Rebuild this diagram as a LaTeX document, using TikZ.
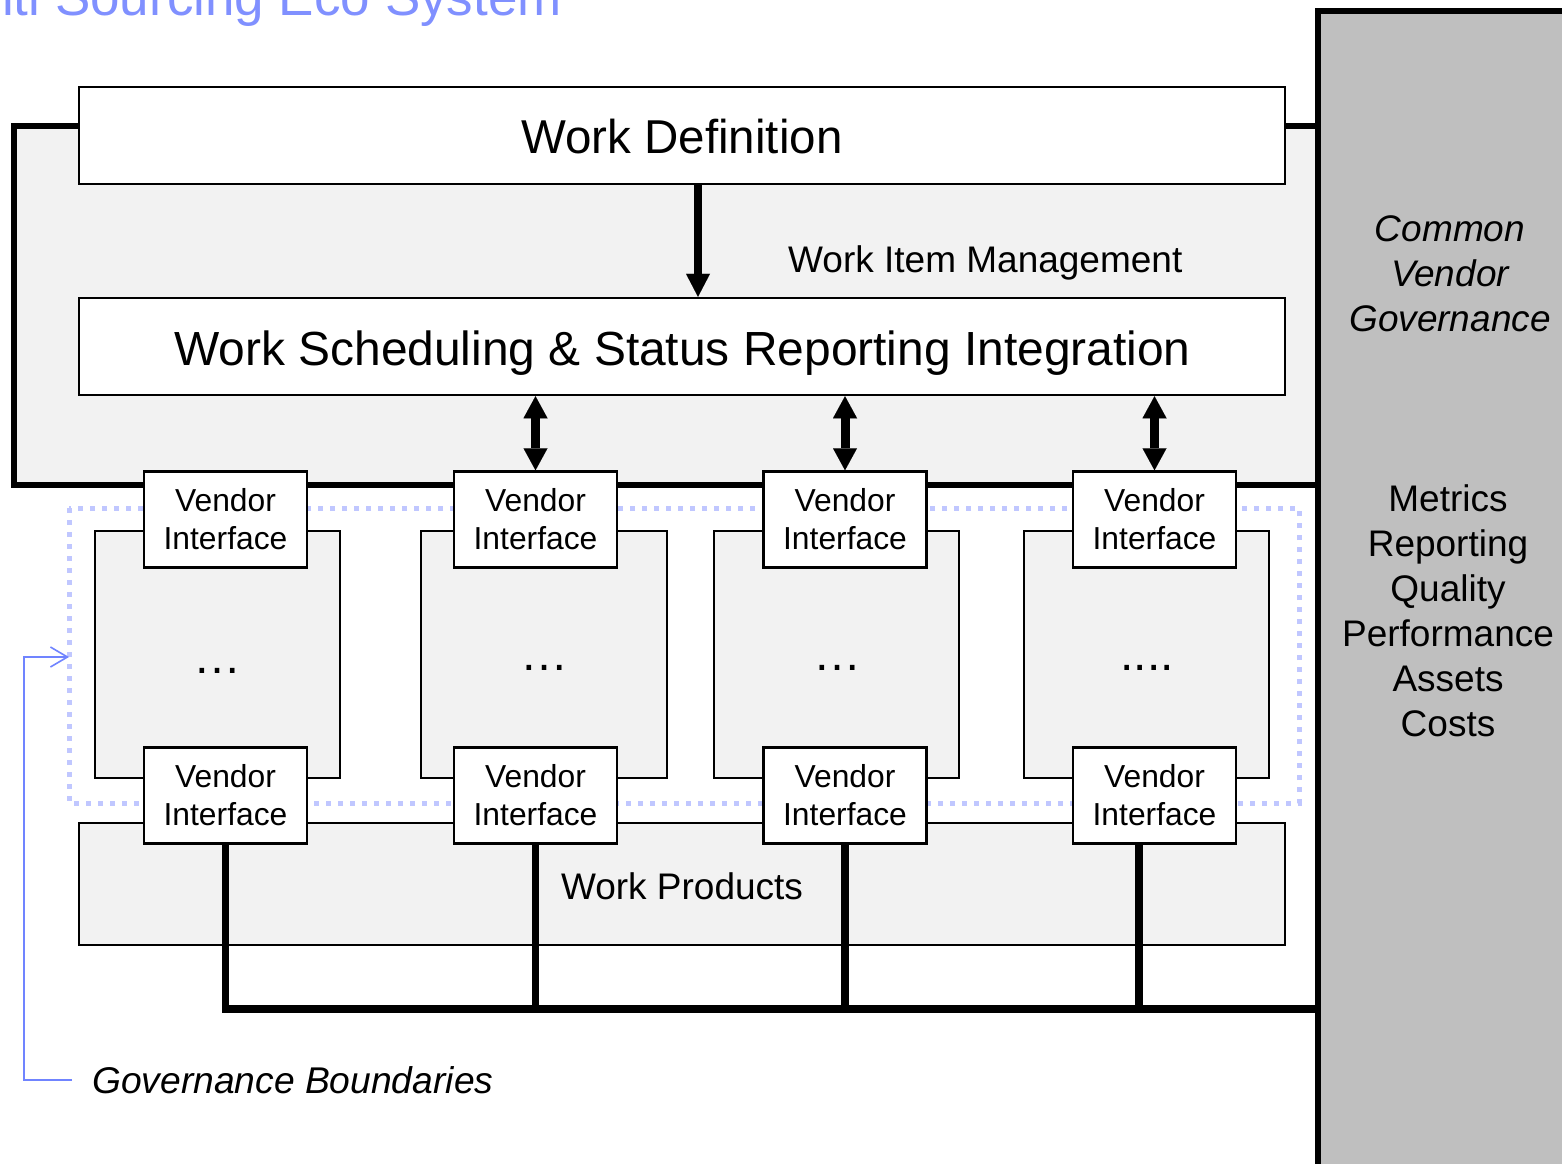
\documentclass[tikz,border=0pt]{standalone}
\usepackage{fontspec}
\setmainfont{Liberation Sans}
\usetikzlibrary{arrows.meta}
\definecolor{panelgray}{RGB}{191,191,191}
\definecolor{boxgray}{RGB}{242,242,242}
\definecolor{dotblue}{RGB}{192,199,255}
\definecolor{govblue}{RGB}{112,132,255}
\definecolor{titleblue}{RGB}{128,144,255}
\begin{document}
\begin{tikzpicture}[x=1pt,y=-1pt,line join=miter,
  bigbox/.style={draw=black,fill=white,line width=2.5pt,minimum width=1206pt,minimum height=97pt,inner sep=0pt},
  bigtext/.style={anchor=base,inner sep=0pt,font=\fontsize{47.5}{57}\selectfont},
  midtext/.style={inner sep=0pt,font=\fontsize{37}{45}\selectfont},
  vendorbox/.style={draw=black,fill=white,line width=2.5pt,minimum width=163pt,minimum height=96pt,inner sep=0pt,align=center,font=\fontsize{31.8}{38}\selectfont},
  innerbox/.style={draw=black,fill=boxgray,line width=2.5pt,minimum width=245pt,minimum height=247pt,inner sep=0pt},
  dotstext/.style={inner sep=0pt,font=\fontsize{48}{50}\selectfont},
  frameline/.style={line width=6pt},
  busline/.style={line width=7.5pt},
  downarrow/.style={line width=8pt,-{Triangle[length=23pt,width=24pt,line width=0.01pt]}},
  dblarrow/.style={line width=9pt,{Triangle[length=22pt,width=24pt,line width=0.01pt]}-{Triangle[length=22pt,width=24pt,line width=0.01pt]}},
  boundary/.style={draw=dotblue,line width=5pt,dash pattern=on 5pt off 7pt},
  govarrow/.style={draw=govblue,line width=1.6pt,-{Straight Barb[length=17pt,width=20pt]}}
]
\useasboundingbox (0,0) rectangle (1562,1163);
\clip (0,0) rectangle (1562,1163);

% title (cut by the page edge, as in the reference)
\node[anchor=base east,inner sep=0pt,text=titleblue,font=\fontsize{53}{60}\selectfont] (title) at (562,15) {Multi Sourcing Eco System};

% upper gray frame
\fill[boxgray] (14,126) rectangle (1318,485);
\draw[frameline] (80,126) -- (14,126) -- (14,485) -- (1318,485);
\draw[frameline] (1284,126) -- (1318,126);

% work definition / scheduling
\node[bigbox] (wd) at (682,135.5) {};
\node[bigtext] (wdtext) at (682,153) {Work Definition};
\node[bigbox] (ws) at (682,346.5) {};
\node[bigtext,font=\fontsize{47.9}{57}\selectfont] (wstext) at (682.5,365) {Work Scheduling \& Status Reporting Integration};
\node[midtext,anchor=base west] (wim) at (788,272) {Work Item Management};

\coordinate (downx) at (698,0);
\draw[downarrow] (wd.south -| downx) -- (ws.north -| downx);

% governance boundary (dotted)
\draw[boundary] (69,508) rectangle (1299,803);

% inner vendor areas
\node[innerbox] (b1) at (217.5,654.5) {};
\node[innerbox,minimum width=246pt] (b2) at (544,654.5) {};
\node[innerbox] (b3) at (836.5,654.5) {};
\node[innerbox] (b4) at (1146.5,654.5) {};
\node[dotstext] (d1) at (217,671) {…};
\node[dotstext] (d2) at (544,668) {…};
\node[dotstext] (d3) at (837,668) {…};
\node[dotstext] (d4) at (1147,668) {....};

% work products
\node[draw=black,fill=boxgray,line width=2.5pt,minimum width=1206pt,minimum height=122pt,inner sep=0pt] (wp) at (682,884) {};
\node[midtext,anchor=base] (wptext) at (682,899) {Work Products};

% vendor interfaces
\node[vendorbox] (v1t) at (225.5,519.5) {Vendor\\Interface};
\node[vendorbox] (v2t) at (535.5,519.5) {Vendor\\Interface};
\node[vendorbox] (v3t) at (845,519.5) {Vendor\\Interface};
\node[vendorbox] (v4t) at (1154.5,519.5) {Vendor\\Interface};
\node[vendorbox] (v1b) at (225.5,795.5) {Vendor\\Interface};
\node[vendorbox] (v2b) at (535.5,795.5) {Vendor\\Interface};
\node[vendorbox] (v3b) at (845,795.5) {Vendor\\Interface};
\node[vendorbox] (v4b) at (1154.5,795.5) {Vendor\\Interface};

% double arrows
\draw[dblarrow] (v2t.north |- ws.south) -- (v2t.north);
\draw[dblarrow] (v3t.north |- ws.south) -- (v3t.north);
\draw[dblarrow] (v4t.north |- ws.south) -- (v4t.north);

% bus to governance
\coordinate (busend) at (1318,1009);
\coordinate (v4drop) at (1139,0);
\draw[busline] (v1b.south) |- (busend);
\draw[busline] (v2b.south) -- (v2b.south |- busend);
\draw[busline] (v3b.south) -- (v3b.south |- busend);
\draw[busline] (v4b.south -| v4drop) -- (v4drop |- busend);

% governance panel
\draw[frameline,fill=panelgray] (1318,11) rectangle (1700,1300);
\node[midtext,anchor=north,align=center,font=\fontsize{37}{45}\selectfont\itshape] (cvg) at (1450,215) {Common\\Vendor\\Governance};
\node[midtext,anchor=north,align=center] (metrics) at (1448,484) {Metrics\\Reporting\\Quality\\Performance\\Assets\\Costs};

% governance boundaries legend
\node[midtext,anchor=base west,font=\fontsize{37.2}{45}\selectfont\itshape] (gb) at (92,1093) {Governance Boundaries};
\coordinate (gbstart) at (72,1080);
\coordinate (gbend) at (69,657);
\draw[govarrow] (gbstart) -- (24,1080) -- (24,657) -- (gbend);
\end{tikzpicture}
\end{document}
